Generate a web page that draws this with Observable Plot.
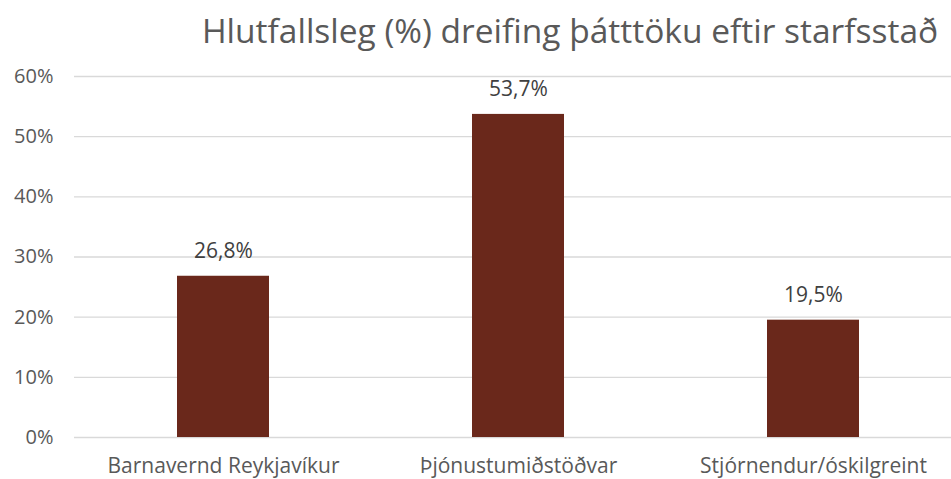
<!DOCTYPE html>
<html>
<head>
<meta charset="utf-8">
<script src="https://cdn.jsdelivr.net/npm/d3@7"></script>
<script src="https://cdn.jsdelivr.net/npm/@observablehq/plot@0.6"></script>
<style>
  html, body { margin: 0; padding: 0; background: #fff; overflow: hidden; }
  #title { height: 60px; width: 951px; position: relative; font-family: "Open Sans", sans-serif; color: #595959; }
  #title span { position: absolute; left: 570px; top: 14px; line-height: 1; transform: translateX(-50%); font-size: 33.5px; white-space: nowrap; }
</style>
</head>
<body>
<div id="title"><span>Hlutfallsleg (%) dreifing þátttöku eftir starfsstað</span></div>
<div id="chart"></div>
<script>
const categories = ["Barnavernd Reykjavíkur", "Þjónustumiðstöðvar", "Stjórnendur/óskilgreint"];
const values = [26.8, 53.7, 19.5];
const yTicks = [0, 10, 20, 30, 40, 50, 60];

const data = categories.map((c, i) => ({category: c, value: values[i]}));
const fmt = d => d.toFixed(1).replace(".", ",") + "%";

const chart = Plot.plot({
  width: 951,
  height: 419,
  marginLeft: 74,
  marginRight: 0,
  marginTop: 16,
  marginBottom: 42,
  style: {fontFamily: "Open Sans, sans-serif", fontSize: "20px", color: "#595959", background: "#fff"},
  x: {domain: categories, range: [74, 962], paddingInner: 0.689, paddingOuter: 0.345, label: null},
  y: {domain: [0, 60], label: null},
  marks: [
    Plot.gridY(yTicks, {stroke: "#D9D9D9", strokeOpacity: 1, strokeWidth: 1.3}),
    Plot.barY(data, {x: "category", y: "value", fill: "#6A281B"}),
    Plot.text(data, {x: "category", y: "value", text: d => fmt(d.value), lineAnchor: "bottom", dy: -18, fill: "#404040", fontSize: 21}),
    Plot.axisY({ticks: yTicks, tickFormat: d => d + "%", tickSize: 0, tickPadding: 21, fontSize: 20, fill: "#595959", label: null}),
    Plot.axisX({tickSize: 0, tickPadding: 21, fontSize: 21, fill: "#595959", label: null})
  ]
});
document.getElementById("chart").appendChild(chart);
</script>
</body>
</html>
